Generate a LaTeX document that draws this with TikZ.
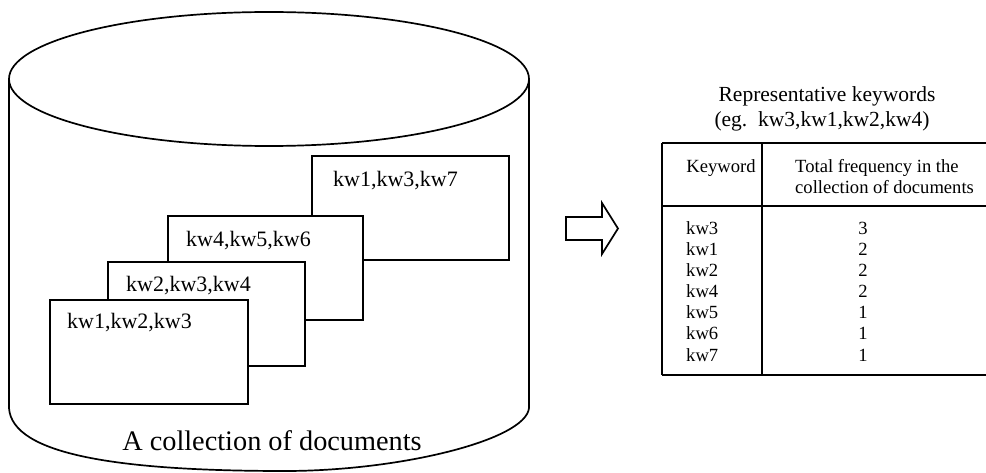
\documentclass[tikz,border=0pt]{standalone}
\usepackage{fontspec}
\setmainfont{Liberation Serif}
\begin{document}
\begin{tikzpicture}[x=1pt, y=-1pt, line join=miter,
  outline/.style={line width=1.7pt},
  docbox/.style={draw, outline, fill=white, rectangle, inner sep=0pt, outer sep=0pt,
    minimum width=197pt, minimum height=104pt, anchor=north west},
  doclabel/.style={anchor=base west, inner sep=0pt, font=\fontsize{22}{26}\selectfont},
  titletext/.style={anchor=base, inner sep=0pt, font=\fontsize{21.5}{25}\selectfont},
  tabtext/.style={inner sep=0pt, font=\fontsize{18.6}{21}\selectfont},
  kwtext/.style={tabtext, anchor=base west},
  numtext/.style={tabtext, anchor=base},
]
\useasboundingbox (0,0) rectangle (986,473);

% --- the document store (cylinder) ---
\draw[outline] (9,79) -- (9,408)
  .. controls (12,455) and (120,471) .. (285,471)
  .. controls (400,471) and (526,440) .. (529,408) -- (529,79);
\draw[outline] (269,79) ellipse [x radius=260, y radius=67];

% --- stacked documents, back to front ---
\node[docbox] (doc4) at (312,156) {};
\node[doclabel] (lab4) at (333,187) {kw1,kw3,kw7};
\node[docbox, minimum width=195pt] (doc3) at (168,216) {};
\node[doclabel] (lab3) at (186,247) {kw4,kw5,kw6};
\node[docbox] (doc2) at (108,262) {};
\node[doclabel] (lab2) at (126,292) {kw2,kw3,kw4};
\node[docbox, minimum width=198pt] (doc1) at (50,300) {};
\node[doclabel] (lab1) at (67,328) {kw1,kw2,kw3};

\node[anchor=base, inner sep=0pt, font=\fontsize{28.3}{32}\selectfont] (store) at (272,450)
  {A collection of documents};

% --- block arrow ---
\draw[outline] (566,217) -- (602,217) -- (602,203) -- (618,228.5)
  -- (602,254) -- (602,240) -- (566,240) -- cycle;

% --- result table ---
\node[titletext] (title1) at (827,102) {Representative keywords};
\node[titletext] (title2) at (822,127) {(eg.\ \ kw3,kw1,kw2,kw4)};

\draw[outline] (662,143) -- (986,143);
\draw[outline] (662,206) -- (986,206);
\draw[outline] (662,375) -- (986,375);
\draw[outline] (662,143) -- (662,375);
\draw[outline] (762,143) -- (762,375);

\node[tabtext, anchor=base] (hkw) at (721,173) {Keyword};
\node[tabtext, anchor=base west] (hf1) at (795,173) {Total frequency in the};
\node[tabtext, anchor=base west] (hf2) at (795,194) {collection of documents};

\foreach \k/\n [count=\i from 0] in {kw3/3, kw1/2, kw2/2, kw4/2, kw5/1, kw6/1, kw7/1} {
  \node[kwtext] (k\i) at (686,235+21*\i) {\k};
  \node[numtext] (n\i) at (863,235+21*\i) {\n};
}
\end{tikzpicture}
\end{document}
